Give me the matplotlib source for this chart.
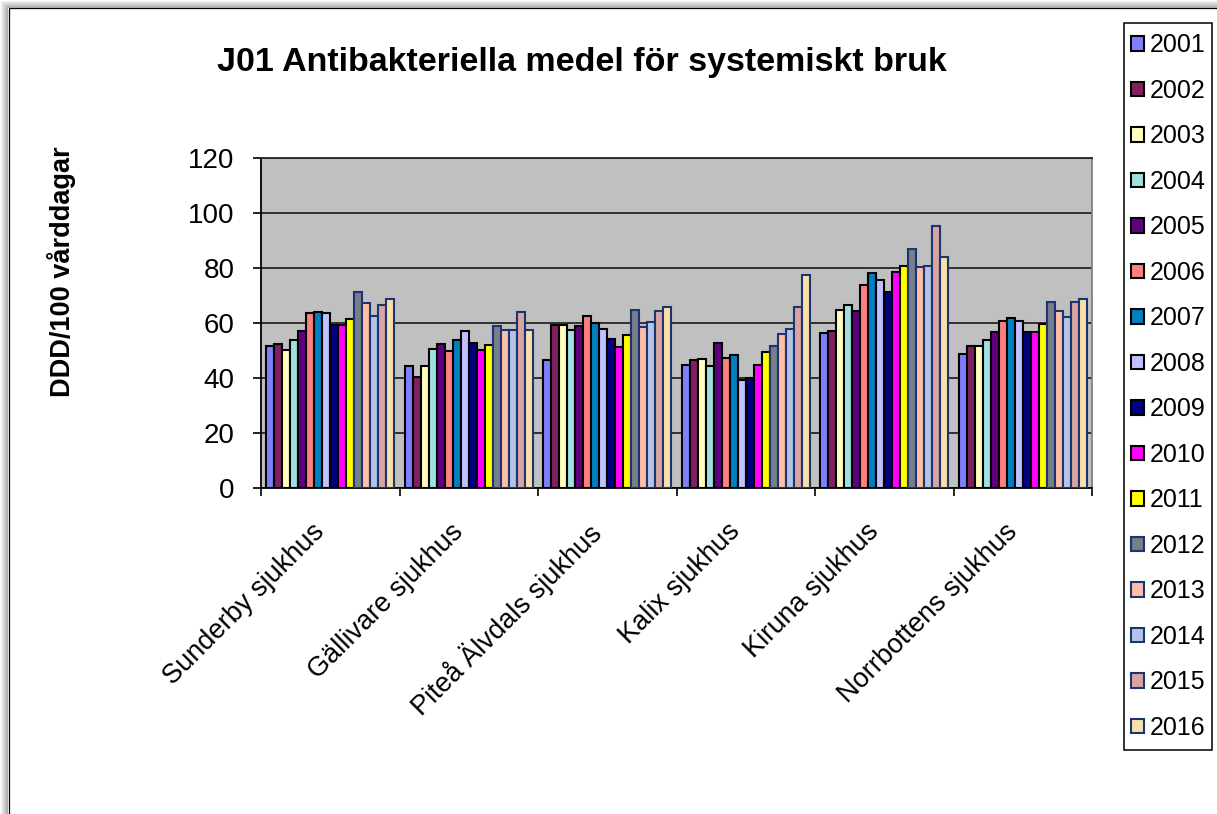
import matplotlib
matplotlib.use("Agg")
import matplotlib.pyplot as plt
import numpy as np
from matplotlib.patches import Rectangle

plt.rcParams['font.family'] = ['Liberation Sans', 'DejaVu Sans']

W, H, DPI = 1217, 814, 100

hospitals = ["Sunderby sjukhus", "Gällivare sjukhus", "Piteå Älvdals sjukhus",
             "Kalix sjukhus", "Kiruna sjukhus", "Norrbottens sjukhus"]
years = [str(y) for y in range(2001, 2017)]

# DDD per 100 vårddagar, one list per year, ordered as `hospitals`
v2001 = [51.5, 44.3, 46.6, 44.6, 56.3, 48.9]
v2002 = [52.4, 40.5, 59.3, 46.7, 57.1, 51.8]
v2003 = [50.3, 44.5, 59.3, 46.9, 64.7, 51.5]
v2004 = [53.9, 50.7, 57.4, 44.3, 66.5, 53.8]
v2005 = [57.2, 52.5, 58.9, 52.8, 64.4, 56.8]
v2006 = [63.8, 49.8, 62.5, 47.4, 73.9, 60.7]
v2007 = [64.1, 53.8, 59.9, 48.2, 78.2, 61.8]
v2008 = [63.8, 57.1, 57.8, 39.3, 75.6, 60.7]
v2009 = [59.4, 52.8, 54.1, 39.9, 71.1, 56.7]
v2010 = [59.4, 50.1, 51.1, 44.7, 78.4, 56.7]
v2011 = [61.4, 52.0, 55.7, 49.3, 80.9, 59.5]
v2012 = [71.1, 58.8, 64.7, 51.6, 86.8, 67.7]
v2013 = [67.4, 57.3, 58.5, 55.9, 80.4, 64.3]
v2014 = [62.6, 57.3, 60.2, 57.8, 80.7, 62.2]
v2015 = [66.7, 64.1, 64.3, 65.8, 95.2, 67.5]
v2016 = [68.7, 57.4, 65.8, 77.6, 83.9, 68.6]

series = [v2001, v2002, v2003, v2004, v2005, v2006, v2007, v2008,
          v2009, v2010, v2011, v2012, v2013, v2014, v2015, v2016]

fills = ['#8080FF', '#802060', '#FFFFC0', '#A0E0E0', '#600080', '#FF8080',
         '#0080C0', '#C0C0FF', '#000080', '#FF00FF', '#FFFF00', '#787F88',
         '#FFBEA8', '#B4C4E6', '#D8A4A4', '#F8E0A8']
edges = ['black'] * 11 + ['#1C3470'] * 5

fig = plt.figure(figsize=(W / DPI, H / DPI), dpi=DPI, facecolor='white')

# Chart frame with soft shadow on top/left, plus the legend's box
bg = fig.add_axes([0, 0, 1, 1], zorder=-10)
bg.set_xlim(0, W)
bg.set_ylim(H, 0)
bg.axis('off')
shades = ['#efefef', '#e6e6e6', '#dcdcdc', '#d0d0d0', '#c4c4c4', '#b8b8b8', '#acacac']
for i, c in enumerate(shades):
    bg.plot([i + 0.5, W], [i + 0.5, i + 0.5], color=c, lw=0.75, solid_capstyle='butt')
    bg.plot([i + 0.5, i + 0.5], [i + 0.5, H], color=c, lw=0.75, solid_capstyle='butt')
bg.add_patch(Rectangle((8.5, 7.5), W, H, fill=True, facecolor='white',
                       edgecolor='black', lw=0.9))
bg.add_patch(Rectangle((1123.5, 22.5), 88, 727, fill=False,
                       edgecolor='black', lw=1.1))

ax = fig.add_axes([261 / W, 1 - 488 / H, (1092 - 261) / W, (488 - 158) / H])
ax.set_facecolor('#C0C0C0')

x = np.arange(len(hospitals))
n = len(series)
bw = 0.921 / n
bars = []
for i, vals in enumerate(series):
    b = ax.bar(x + (i - (n - 1) / 2) * bw, vals, width=bw, color=fills[i],
               edgecolor=edges[i], linewidth=1.5, label=years[i], zorder=3)
    bars.append(b)

ax.set_xlim(-0.5, len(hospitals) - 0.5)
ax.set_ylim(0, 120)
ax.set_yticks(np.arange(0, 121, 20))
ax.yaxis.grid(True, color='#262626', lw=1.3)
ax.set_axisbelow(True)
ax.tick_params(axis='y', direction='out', length=6, width=1.2, labelsize=20, pad=13)

ax.set_xticks(x)
ax.set_xticklabels(hospitals, rotation=45, ha='right', va='top', fontsize=19.5)
ax.set_xticks(np.arange(-0.5, len(hospitals)), minor=True)
ax.tick_params(axis='x', which='major', length=0, pad=22)
ax.tick_params(axis='x', which='minor', direction='out', length=6, width=1.2)

for s in ['left', 'bottom']:
    ax.spines[s].set_color('black')
    ax.spines[s].set_linewidth(1.3)
ax.spines['top'].set_color('#262626')
ax.spines['top'].set_linewidth(1.3)
ax.spines['right'].set_color('#808080')
ax.spines['right'].set_linewidth(1.3)

fig.text(582 / W, 1 - 62 / H, "J01 Antibakteriella medel för systemiskt bruk",
         ha='center', va='center', fontsize=24.5, fontweight='bold')
fig.text(62 / W, 1 - 272 / H, "DDD/100 vårddagar", rotation=90,
         ha='center', va='center', fontsize=19.5, fontweight='bold')

leg = fig.legend(handles=bars, labels=years, loc='upper left',
                 bbox_to_anchor=(1123 / W, 1 - 25 / H), borderaxespad=0,
                 fontsize=18, frameon=False,
                 handlelength=0.52, handleheight=0.52, handletextpad=0.22,
                 borderpad=0.33, labelspacing=0.86)

fig.savefig("out.png", dpi=DPI, facecolor='white')
